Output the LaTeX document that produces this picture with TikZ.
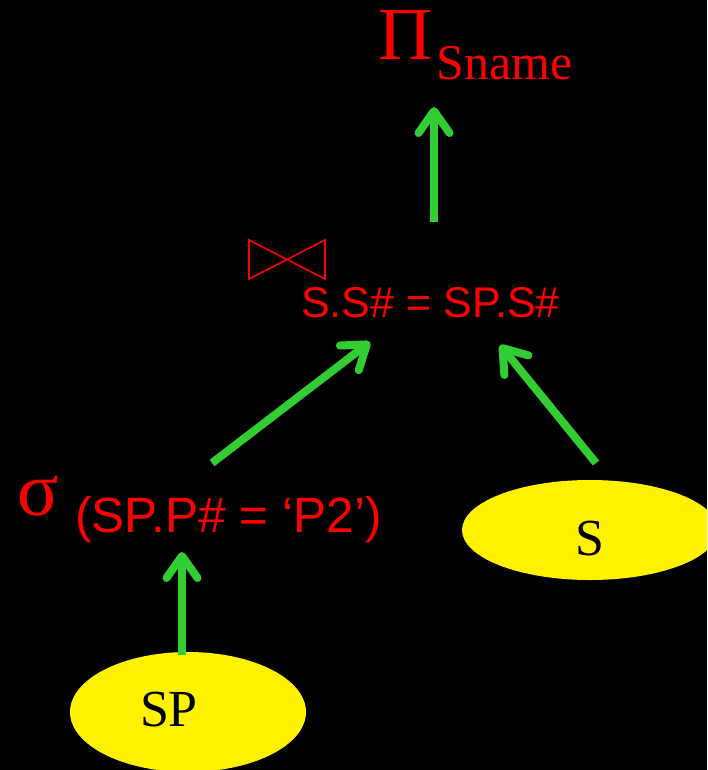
\documentclass[tikz,border=0pt]{standalone}
\usepackage{fontspec}
\setmainfont{Liberation Serif}
\newfontfamily\arialfam{Liberation Sans}
\usetikzlibrary{arrows.meta}
\tikzset{
  opname/.style={anchor=base west, inner sep=0pt, text=red},
  flow/.style={draw={rgb,255:red,50;green,205;blue,50}, line width=8pt,
    -{Straight Barb[length=22pt,width=31pt,round]}},
  relname/.style={inner sep=0pt, text=black, font=\fontsize{52}{52}\selectfont},
}
\begin{document}
\begin{tikzpicture}[x=1pt,y=-1pt]
  % canvas
  \fill[black] (0,0) rectangle (707,770);
  \useasboundingbox (0,0) rectangle (707,770);
  \clip (0,0) rectangle (707,770);

  % base relations
  \fill[yellow] (590,530) ellipse [x radius=128, y radius=50];
  \fill[yellow] (188,712) ellipse [x radius=118, y radius=60];
  \node[relname] (s) at (590,539) {S};
  \node[relname] (sp) at (169,710) {SP};

  % projection
  \node[opname, font=\fontsize{75}{75}\selectfont] (proj) at (378,60) {Π};
  \node[opname, font=\fontsize{50}{50}\selectfont] (projsub) at (436,80) {Sname};

  % join
  \draw[red, line width=1.6pt, line join=miter]
    (249,240) -- (325,279) -- (325,240) -- (249,279) -- cycle;
  \node[opname, font=\arialfam\fontsize{43}{43}\selectfont] (joincond) at (301,317) {S.S\# = SP.S\#};

  % selection
  \node[opname, font=\fontsize{77}{77}\selectfont] (sigma) at (17,515) {σ};
  \node[opname, font=\arialfam\fontsize{49.6}{49.6}\selectfont] (selcond) at (75,532) {(SP.P\# = ‘P2’)};

  % arrow end points
  \coordinate (spTop) at (182,655);
  \coordinate (selIn) at (182,552);
  \coordinate (selOut) at (212,463);
  \coordinate (joinInL) at (370,342);
  \coordinate (sTop) at (596,463);
  \coordinate (joinInR) at (500,345);
  \coordinate (joinOut) at (434,222);
  \coordinate (projIn) at (434,107);

  % data flow
  \draw[flow] (spTop) -- (selIn);
  \draw[flow] (selOut) -- (joinInL);
  \draw[flow] (sTop) -- (joinInR);
  \draw[flow] (joinOut) -- (projIn);
\end{tikzpicture}
\end{document}
